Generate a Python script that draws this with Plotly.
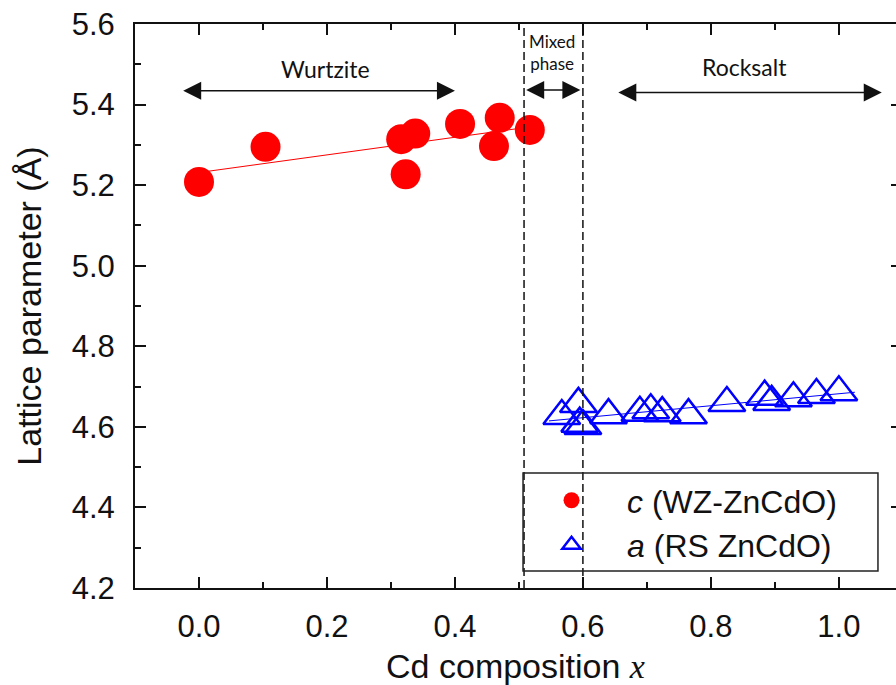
import numpy as np
import plotly.graph_objects as go

# ---- data ----
wz_x = [0.000, 0.104, 0.316, 0.338, 0.323, 0.408, 0.461, 0.470, 0.517]
wz_c = [5.208, 5.295, 5.314, 5.328, 5.227, 5.352, 5.297, 5.367, 5.337]

rs_x = [0.567, 0.593, 0.595, 0.600, 0.640, 0.689, 0.706, 0.724, 0.765,
        0.825, 0.884, 0.895, 0.929, 0.965, 1.000]
rs_a = [4.627, 4.657, 4.608, 4.602, 4.629, 4.635, 4.641, 4.634, 4.629,
        4.659, 4.675, 4.662, 4.671, 4.679, 4.686]

x_ticks = [0.0, 0.2, 0.4, 0.6, 0.8, 1.0]
x_tick_text = ["0.0", "0.2", "0.4", "0.6", "0.8", "1.0"]
y_ticks = [4.2, 4.4, 4.6, 4.8, 5.0, 5.2, 5.4, 5.6]
y_tick_text = ["4.2", "4.4", "4.6", "4.8", "5.0", "5.2", "5.4", "5.6"]

phase_bounds = [0.508, 0.600]
region_names = ["Wurtzite", "Mixed<br>phase", "Rocksalt"]
region_x0 = [-0.027, 0.509, 0.653]
region_x1 = [0.400, 0.596, 1.067]
region_arrow_y = [5.434, 5.436, 5.430]
region_label_x = [0.197, 0.552, 0.853]
region_label_y = [5.488, 5.530, 5.493]
region_label_size = [23, 17, 23]

series_names = ["<i>c</i> (WZ-ZnCdO)", "<i>a</i> (RS ZnCdO)"]

# ---- linear fits ----
p_wz = np.polyfit(wz_x, wz_c, 1)
p_rs = np.polyfit(rs_x, rs_a, 1)
fx_wz = np.array([min(wz_x), max(wz_x)])
fx_rs = np.array([min(rs_x) - 0.02, max(rs_x) + 0.025])

SANS = "Liberation Sans, Arial, sans-serif"
LBL = "Lato, Open Sans, sans-serif"
RED = "#ff0000"
BLUE = "#0000ff"

fig = go.Figure()
fig.add_trace(go.Scatter(x=fx_wz, y=np.polyval(p_wz, fx_wz), mode="lines",
                         line=dict(color=RED, width=1), showlegend=False, hoverinfo="skip"))
fig.add_trace(go.Scatter(x=fx_rs, y=np.polyval(p_rs, fx_rs), mode="lines",
                         line=dict(color=BLUE, width=1), showlegend=False, hoverinfo="skip"))
fig.add_trace(go.Scatter(x=wz_x, y=wz_c, mode="markers", name=series_names[0],
                         marker=dict(symbol="circle", size=30, color=RED, line=dict(width=0))))
fig.add_trace(go.Scatter(x=rs_x, y=rs_a, mode="markers", name=series_names[1],
                         marker=dict(symbol="triangle-up-open", size=32, color=BLUE,
                                     line=dict(width=2.5, color=BLUE))))
# dummy trace for right-hand tick marks
fig.add_trace(go.Scatter(x=[None], y=[None], yaxis="y2", showlegend=False, hoverinfo="skip"))

# phase boundaries
for xb in phase_bounds:
    fig.add_shape(type="line", xref="x", yref="paper", x0=xb, x1=xb, y0=0, y1=1,
                  line=dict(color="#111111", width=1.5, dash="8px,4px"))

# region arrows and labels
for i, name in enumerate(region_names):
    fig.add_annotation(x=region_x1[i], y=region_arrow_y[i], ax=region_x0[i], ay=region_arrow_y[i],
                       xref="x", yref="y", axref="x", ayref="y", text="", showarrow=True,
                       arrowside="end+start", arrowhead=2, startarrowhead=2,
                       arrowsize=2.4, startarrowsize=2.4, arrowwidth=1.5, arrowcolor="#111111")
    fig.add_annotation(x=region_label_x[i], y=region_label_y[i], xref="x", yref="y",
                       text=name, showarrow=False,
                       font=dict(family=LBL, size=region_label_size[i], color="#111111"))

# legend frame
fig.add_shape(type="rect", xref="paper", yref="paper", x0=0.5099, x1=0.9763, y0=0.0301, y1=0.2039,
              line=dict(color="#222222", width=1.5), fillcolor="rgba(0,0,0,0)")

fig.update_layout(
    width=896, height=685,
    margin=dict(l=135, r=0, t=24, b=97),
    plot_bgcolor="white", paper_bgcolor="white",
    font=dict(family=SANS, size=31, color="#111111"),
    showlegend=True,
    legend=dict(x=0.5007, y=0.204, xanchor="left", yanchor="top",
                bgcolor="rgba(0,0,0,0)", borderwidth=0, itemwidth=101,
                font=dict(family=SANS, size=32, color="#111111"), tracegroupgap=0),
    xaxis=dict(range=[-0.1, 1.0893], tickmode="array", tickvals=x_ticks, ticktext=x_tick_text,
               ticks="inside", ticklen=11, tickwidth=2, tickcolor="#111111",
               minor=dict(ticks="inside", ticklen=6, tickwidth=2, dtick=0.1, tickcolor="#111111"),
               showline=True, linewidth=2, linecolor="#111111", mirror="ticks",
               showgrid=False, zeroline=False, ticklabelstandoff=10,
               title=dict(text="Cd composition <span style=\"font-family:'Liberation Serif'\"><i>x</i></span>",
                          font=dict(size=34), standoff=18)),
    yaxis=dict(range=[4.2, 5.6], tickmode="array", tickvals=y_ticks, ticktext=y_tick_text,
               ticks="inside", ticklen=11, tickwidth=2, tickcolor="#111111",
               minor=dict(ticks="inside", ticklen=6, tickwidth=2, dtick=0.1, tickcolor="#111111"),
               showline=True, linewidth=2, linecolor="#111111", mirror=False,
               showgrid=False, zeroline=False, ticklabelstandoff=12,
               title=dict(text="Lattice parameter (Å)", font=dict(size=34), standoff=20)),
    yaxis2=dict(range=[4.2, 5.6], overlaying="y", side="right", anchor="x",
                tickmode="array", tickvals=y_ticks, ticks="inside", ticklen=5, tickwidth=2,
                tickcolor="#111111", showticklabels=False, showline=False, showgrid=False,
                zeroline=False),
)

fig.write_html("out.html")
